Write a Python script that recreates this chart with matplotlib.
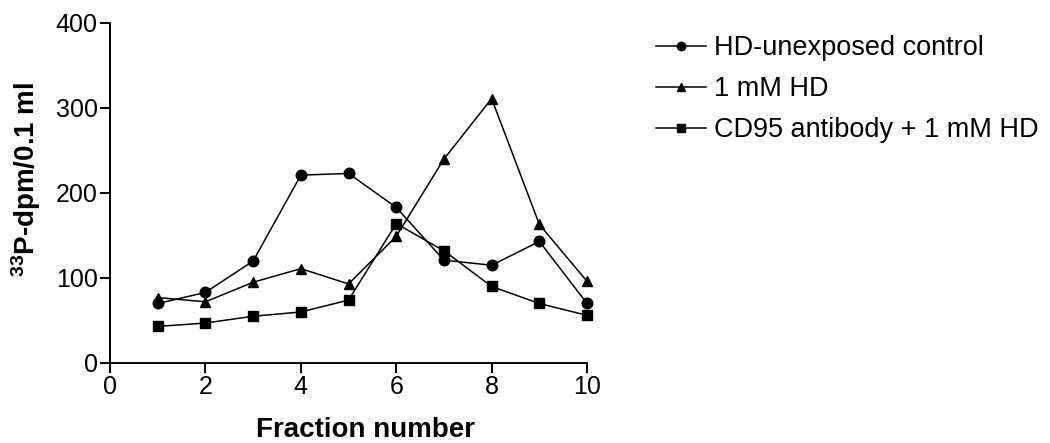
import numpy as np
import matplotlib
matplotlib.use("Agg")
import matplotlib.pyplot as plt

plt.rcParams['font.family'] = ['Liberation Sans', 'DejaVu Sans']
plt.rcParams['mathtext.fontset'] = 'custom'
plt.rcParams['mathtext.rm'] = 'Liberation Sans'
plt.rcParams['mathtext.bf'] = 'Liberation Sans:bold'

fractions = [1, 2, 3, 4, 5, 6, 7, 8, 9, 10]
control = [70, 83, 120, 221, 223, 183, 121, 115, 143, 70]
hd_1mm = [77, 72, 95, 111, 93, 149, 240, 311, 163, 96]
cd95_hd = [43, 47, 55, 60, 74, 164, 132, 90, 70, 56]
labels = ["HD-unexposed control", "1 mM HD", "CD95 antibody + 1 mM HD"]
x_ticks = [0, 2, 4, 6, 8, 10]
y_ticks = [0, 100, 200, 300, 400]

fig = plt.figure(figsize=(10.5, 4.43), dpi=100)
ax = fig.add_axes([0.1048, 0.1806, 0.4543, 0.7675])

series = [(control, "o", 7.6), (hd_1mm, "^", 7.6), (cd95_hd, "s", 7.6)]
for (vals, marker, ms), label in zip(series, labels):
    ax.plot(fractions, vals, color="black", lw=1.1, marker=marker, ms=ms,
            markerfacecolor="black", markeredgecolor="black", label=label,
            clip_on=False)

ax.set_xlim(0, 10)
ax.set_ylim(0, 400)
ax.set_xticks(x_ticks)
ax.set_yticks(y_ticks)
for side in ("top", "right"):
    ax.spines[side].set_visible(False)
for side in ("left", "bottom"):
    ax.spines[side].set_linewidth(1.4)
ax.tick_params(direction="out", length=7, width=1.4, labelsize=18, pad=2)

ax.set_xlabel("Fraction number", fontsize=20, fontweight="bold")
ax.xaxis.set_label_coords(0.535, -0.16)
ax.set_ylabel(r"$\mathbf{^{33}}$P-dpm/0.1 ml", fontsize=20, fontweight="bold")
ax.yaxis.set_label_coords(-0.14, 0.54)

fig.legend(loc="upper left", bbox_to_anchor=(0.625, 0.921), frameon=False,
           fontsize=19.5, handlelength=1.85, handletextpad=0.3,
           labelspacing=0.56, borderpad=0, borderaxespad=0, markerscale=0.8)

fig.savefig("out.png", dpi=100)
